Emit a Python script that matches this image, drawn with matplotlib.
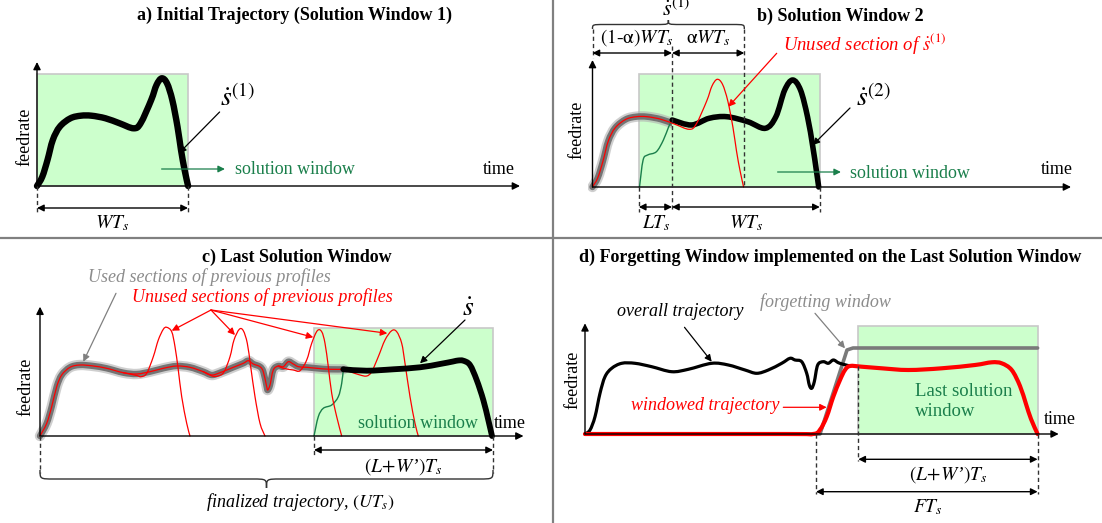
import numpy as np
import matplotlib
matplotlib.use('Agg')
import matplotlib.pyplot as plt
from matplotlib.path import Path
from matplotlib.patches import PathPatch, Rectangle

# ---------------- data: (time, feedrate) ----------------
# a) initial trajectory s(1)
s1_t = [0, 5.3, 10.5, 15.8, 22.8, 33.4, 43.9, 54.5, 68.5, 82.6, 96.6, 103.6,
        114.2, 119.5, 124.7, 130, 135.3, 140.5, 144, 147.6, 151.1]
s1_f = [0, 9.3, 26, 46, 59.3, 67.7, 70.3, 70.3, 67.7, 62.7, 57.7, 62.7,
        86, 101, 107.7, 102.7, 86, 59.3, 36, 16, 0]
a_window = [0, 151.1]

# b) solution window 2
b_used_end = 79.5
s2_green_t = [47, 50.6, 55.1, 63.9, 70.9, 76.2, 79.7]
s2_green_f = [0, 27, 32, 35.3, 47, 60.3, 67]
s2_t = [79.7, 99, 116.6, 134.2, 155.3, 172.8, 183.4, 192.2, 200.2, 208, 215,
        220.3, 223.8, 226.2]
s2_f = [67, 62, 68.7, 70.3, 65.3, 58.7, 70.3, 97, 107, 97, 70.3, 40.3, 17, 0]
b_window = [46.3, 227.3]

# c) last solution window
c_used_t = [0, 6.7, 11.7, 16.7, 21.7, 30, 40, 53.3, 66.7, 83.3, 96.7, 110, 123.3,
            136.7, 150, 163.3, 171.7, 180, 193.3, 203.3, 208.3, 213.3, 220, 223.3,
            226.7, 227.7, 230, 233.3, 238.3, 243.3, 248.3, 253.3, 258.3, 266.7,
            276.7, 290, 303.3]
c_used_f = [0, 12.7, 29.3, 49.3, 61, 68.7, 71, 70, 67.7, 63.3, 62, 64.3, 67.7,
            70, 68.7, 64.3, 61, 63.3, 68.7, 72.7, 75.3, 72, 69.3, 64.3,
            49.3, 46, 51, 66, 70, 69.3, 74.3, 72, 69.3, 68.7,
            67.7, 66.7, 66.7]
c_unused1_t = [83.3, 96.7, 101, 106.7, 113.3, 118.3, 123.3, 126.7, 131.7, 135, 138.3, 141.7, 146.7, 150]
c_unused1_f = [63.3, 60.5, 59.3, 62.7, 79.3, 96, 106.7, 108.7, 104.3, 89.3, 66, 39.3, 12.7, 0]
c_unused2_t = [163.3, 172, 178, 184, 190, 194, 199.3, 203.3, 207.3, 210.7, 215, 220, 225]
c_unused2_f = [64.3, 60, 60, 64, 79.3, 96, 106.7, 105.3, 92.7, 69.3, 39.3, 12.7, 0]
c_unused3_t = [238.3, 243.3, 253.3, 260, 266.7, 271.7, 277.3, 281.7, 285, 288.3, 291.7, 296.7, 301.7]
c_unused3_f = [70, 67.7, 66, 65.3, 76, 92.7, 105.3, 104.3, 92.7, 69.3, 42.7, 19.3, 0]
c_unused4_t = [303.3, 310, 320, 326.7, 331.7, 338.3, 345, 351.7, 356.7, 361.7, 365, 370, 375, 378.3]
c_unused4_f = [66.7, 64.3, 61, 60, 64.3, 79.3, 96, 105.3, 104.3, 92.7, 72.7, 39.3, 12.7, 0]
c_new_t = [274, 278.3, 283.3, 291.7, 298.3, 301.7, 303.3]
c_new_f = [0, 19.3, 27.7, 31, 39.3, 52.7, 66.7]
c_last_t = [303.3, 326.7, 353.3, 380, 400, 413, 418, 423.3, 430, 436.7, 443.3, 448.3, 452]
c_last_f = [66.7, 65.3, 66.7, 68.7, 72, 74.5, 75.5, 75.3, 71, 56, 36, 16, 0]
c_window = [274, 453]

# d) forgetting window
d_overall_t = [0, 5, 10, 15, 20, 26.7, 36.7, 50, 66.7, 86.7, 103.3, 126.7, 143.3,
               160, 171.7, 183.3, 196.7, 205, 210, 216.7, 221.7, 224.3, 226.7,
               229.3, 232.7, 238.3, 243.3, 248.3, 253.3, 258.3, 265]
d_overall_f = [0, 4, 17.3, 40.7, 57.3, 65.7, 70.7, 70.7, 67.3, 62.3, 64.7, 70.7, 69,
               64, 60.7, 64, 70.7, 75.7, 74, 72.3, 60.7, 49, 45.7,
               52.3, 69, 72.3, 70.7, 74, 71.3, 69.7, 68]
d_windowed_t = [0, 200, 228, 235, 241.7, 248.3, 255, 260, 265, 276.7, 296.7, 323.3,
                356.7, 390, 406.7, 416.7, 426.7, 435, 441, 446, 452.6]
d_windowed_f = [0, 0, 0, 4.3, 17.3, 37.3, 54, 64, 68, 67.3, 65.7, 64,
                65.7, 69, 71.7, 70.7, 64, 48, 30, 15, 0]
d_forget_t = [0, 235, 262, 268, 452.6]
d_forget_f = [0, 0, 84, 86, 86]
d_window = [273.3, 452.6]

# ---------------- style ----------------
W, H = 1102, 523
SERIF = 'Liberation Serif'
plt.rcParams['font.family'] = [SERIF, 'DejaVu Serif']
plt.rcParams['mathtext.fontset'] = 'stix'
GREEN_TXT = '#1a7f4b'
GREEN_FILL = '#ccffcc'
RED = '#ff0000'
GRAY = '#808080'

fig = plt.figure(figsize=(W / 100, H / 100), dpi=100)
fig.patch.set_facecolor('white')

Lx = fig.add_axes([0, 0, 1, 1])
Lx.set_xlim(0, W)
Lx.set_ylim(H, 0)
Lx.axis('off')
Lx.set_zorder(10)
Lx.patch.set_alpha(0)


def panel(ox, oy):
    ax = fig.add_axes([0, 0, 1, 1])
    ax.set_xlim(-ox, W - ox)
    ax.set_ylim(oy - H, oy)
    ax.axis('off')
    ax.patch.set_alpha(0)
    return ax


def smooth_path(xs, ys):
    pts = np.column_stack([xs, ys]).astype(float)
    n = len(pts)
    verts = [pts[0]]
    codes = [Path.MOVETO]
    for i in range(n - 1):
        p0 = pts[i - 1] if i > 0 else pts[i]
        p1 = pts[i]
        p2 = pts[i + 1]
        p3 = pts[i + 2] if i + 2 < n else pts[i + 1]
        verts += [p1 + (p2 - p0) / 6.0, p2 - (p3 - p1) / 6.0, p2]
        codes += [Path.CURVE4] * 3
    return Path(verts, codes)


def curve(ax, xs, ys, color, lw, alpha=1.0, z=3, clip=None):
    p = PathPatch(smooth_path(xs, ys), fill=False, edgecolor=color, lw=lw,
                  alpha=alpha, zorder=z, capstyle='round', joinstyle='round')
    ax.add_patch(p)
    if clip is not None:
        r = Rectangle((clip[0], -50), clip[1] - clip[0], 400, transform=ax.transData)
        p.set_clip_path(r)
    return p


def used_curve(ax, xs, ys, clip=None):
    curve(ax, xs, ys, '#b0b0b0', 7.5, 0.6, z=3, clip=clip)
    curve(ax, xs, ys, '#6f6f6f', 4.6, 0.95, z=3, clip=clip)


def axes_arrows(ax, tmax, fmax):
    kw = dict(arrowstyle='-|>', color='black', lw=1.0, mutation_scale=11,
              shrinkA=0, shrinkB=0)
    ax.annotate('', xy=(tmax, 0), xytext=(0, 0), arrowprops=kw, zorder=6)
    ax.annotate('', xy=(0, fmax), xytext=(0, 0), arrowprops=kw, zorder=6)


def window(ax, span, height):
    ax.add_patch(Rectangle((span[0], 0), span[1] - span[0], height,
                           facecolor=GREEN_FILL, edgecolor='#c8c8c8', lw=1.2, zorder=1))


def arrow(x1, y1, x2, y2, color='black', lw=0.9, ms=10):
    Lx.annotate('', xy=(x2, y2), xytext=(x1, y1),
                arrowprops=dict(arrowstyle='-|>', color=color, lw=lw, mutation_scale=ms,
                                shrinkA=0, shrinkB=0))


def dim(x1, x2, y):
    Lx.annotate('', xy=(x2, y), xytext=(x1, y),
                arrowprops=dict(arrowstyle='<|-|>', color='black', lw=1.0, mutation_scale=10,
                                shrinkA=0, shrinkB=0))


def dashed(x, y1, y2, color='#333333'):
    Lx.plot([x, x], [y1, y2], color=color, lw=1.0, dashes=(3, 2.2))


def brace(x1, x2, y0, s, d, r=12):
    xm = (x1 + x2) / 2
    h = y0 + s * d / 2
    tip = y0 + s * d
    verts = [(x1, y0), (x1, h), (x1, h), (x1 + r, h),
             (xm - r, h),
             (xm, h), (xm, h), (xm, tip),
             (xm, h), (xm, h), (xm + r, h),
             (x2 - r, h),
             (x2, h), (x2, h), (x2, y0)]
    codes = [Path.MOVETO, Path.CURVE4, Path.CURVE4, Path.CURVE4,
             Path.LINETO,
             Path.CURVE4, Path.CURVE4, Path.CURVE4,
             Path.CURVE4, Path.CURVE4, Path.CURVE4,
             Path.LINETO,
             Path.CURVE4, Path.CURVE4, Path.CURVE4]
    Lx.add_patch(PathPatch(Path(verts, codes), fill=False, edgecolor='#333333', lw=1.0))


def txt(x, y, s, size=12.5, color='black', ha='center', va='center', **kw):
    Lx.text(x, y, s, fontsize=size, color=color, ha=ha, va=va, **kw)


PRIME_LW = r"$(L\!+\!W$’$)T_s$"

# dividers
Lx.plot([553, 553], [0, H], color=GRAY, lw=1.6)
Lx.plot([0, W], [237.7, 237.7], color=GRAY, lw=1.6)

# ================= panel a =================
axa = panel(37, 186)
window(axa, a_window, 112)
axes_arrows(axa, 483, 124)
curve(axa, s1_t, s1_f, 'black', 4.6, z=4)
txt(294.5, 15, 'a) Initial Trajectory (Solution Window 1)', size=13, weight='bold')
txt(24.6, 137, 'feedrate', rotation=90, size=13)
txt(499, 170, 'time', size=13)
txt(234.7, 170, 'solution window', color=GREEN_TXT, ha='left', size=13)
arrow(161.6, 169, 224.9, 169, color=GREEN_TXT)
txt(220, 98, r'$\dot{s}^{\mathit{(1)}}$', size=20, ha='left')
arrow(219.6, 112, 179.2, 153)
dashed(37, 186, 214)
dashed(188, 186, 214)
dim(37, 188, 208)
txt(112, 223, r'$WT_s$', size=14)

# ================= panel b =================
axb = panel(592.5, 187)
window(axb, b_window, 113)
axes_arrows(axb, 478.5, 127)
used_curve(axb, s1_t, s1_f, clip=(-5, b_used_end))
curve(axb, s1_t, s1_f, RED, 0.9, z=5)
curve(axb, s2_green_t, s2_green_f, '#1a7f4b', 1.0, z=4)
curve(axb, s2_t, s2_f, 'black', 4.0, z=4)
txt(840, 16, 'b) Solution Window 2', size=13, weight='bold')
brace(592.5, 744.3, 29, -1, 9)
txt(676, 21, r'$\dot{s}^{\mathit{(1)}}$', size=16, va='bottom')
dashed(592.5, 29, 58)
dashed(672, 46, 212)
dashed(744.3, 29, 187)
dim(592.5, 672, 53)
dim(672, 744.3, 53)
txt(637, 38, r'$\mathit{(1}$-$\mathrm{\alpha}\mathit{)}WT_s$', size=14, style='italic')
txt(708, 38, r'$\mathrm{\alpha}WT_s$', size=14)
dashed(638.8, 187, 212)
dashed(819.8, 187, 212)
dim(638.8, 672, 207)
dim(672, 819.8, 207)
txt(656.4, 223, r'$LT_s$', size=14)
txt(746, 223, r'$WT_s$', size=14)
txt(783, 44, r'Unused section of $\dot{s}^{\mathit{(1)}}$', size=13.5, color=RED,
    ha='left', style='italic')
arrow(776.7, 53.3, 728.4, 106.7, color=RED)
txt(856, 98, r'$\dot{s}^{\mathit{(2)}}$', size=20, ha='left')
arrow(850, 108, 812.8, 145)
txt(849.7, 173, 'solution window', color=GREEN_TXT, ha='left', size=13)
arrow(777.6, 172, 840.9, 172, color=GREEN_TXT)
txt(1057, 170, 'time', size=13)
txt(577.4, 130, 'feedrate', rotation=90, size=13)

# ================= panel c =================
axc = panel(40, 436)
window(axc, c_window, 108)
axes_arrows(axc, 483.5, 129.3)
used_curve(axc, c_used_t, c_used_f)
curve(axc, c_used_t, c_used_f, RED, 0.9, z=5)
for ut, uf in [(c_unused1_t, c_unused1_f), (c_unused2_t, c_unused2_f),
               (c_unused3_t, c_unused3_f), (c_unused4_t, c_unused4_f)]:
    curve(axc, ut, uf, RED, 0.9, z=5)
curve(axc, c_new_t, c_new_f, '#1a7f4b', 1.0, z=4)
curve(axc, c_last_t, c_last_f, 'black', 4.2, z=6)
txt(297, 257, 'c) Last Solution Window', size=13, weight='bold')
txt(87.8, 277.3, 'Used sections of previous profiles', size=13, color='#8c8c8c',
    ha='left', style='italic')
txt(131.8, 297.3, 'Unused sections of previous profiles', size=13, color=RED,
    ha='left', style='italic')
arrow(116, 293.3, 83.3, 361.7, color=GRAY)
for tx, ty in [(171.7, 330.7), (235, 335), (313.3, 337.3), (387.3, 333.3)]:
    arrow(211, 310, tx, ty, color=RED)
txt(468, 309, r'$\dot{s}$', size=20)
arrow(465, 320, 420, 363.3)
txt(418, 423, 'solution window', color=GREEN_TXT, size=13)
txt(510, 423, 'time', size=13)
txt(26.4, 387, 'feedrate', rotation=90, size=13)
dashed(40, 436, 473)
dashed(314, 436, 457)
dashed(493, 436, 473)
dim(314, 493, 450)
txt(403, 467, PRIME_LW, size=14, style='italic')
brace(40, 493, 470, 1, 18, r=14)
txt(300, 501.7, r'finalized trajectory, $(UT_s)$', size=13, style='italic')

# ================= panel d =================
axd = panel(585, 434)
window(axd, d_window, 108)
axes_arrows(axd, 473.7, 110.7)
axd.plot(d_forget_t, d_forget_f, color='#7a7a7a', lw=2.6, zorder=3,
         solid_joinstyle='round', solid_capstyle='round')
curve(axd, d_overall_t, d_overall_f, 'black', 2.3, z=4)
curve(axd, d_windowed_t, d_windowed_f, RED, 3.0, z=5)
txt(830, 257.3, 'd) Forgetting Window implemented on the Last Solution Window', size=13,
    weight='bold')
txt(572.8, 380, 'feedrate', rotation=90, size=13)
txt(1059.6, 420, 'time', size=13)
txt(915, 391.7, 'Last solution', color=GREEN_TXT, ha='left', size=13.5)
txt(915, 411.7, 'window', color=GREEN_TXT, ha='left', size=13.5)
txt(617, 311.7, 'overall trajectory', size=13, ha='left', style='italic')
arrow(684.5, 327.3, 711.7, 361.7)
txt(760, 301.7, 'forgetting window', size=13, ha='left', style='italic', color='#8c8c8c')
arrow(815, 313.3, 845, 348.3, color=GRAY)
txt(631, 405, 'windowed trajectory', size=13, ha='left', style='italic', color=RED)
arrow(783.3, 407.3, 826.7, 407.3, color=RED)
dashed(816, 434, 494)
dashed(858.3, 366, 461)
dashed(1037.6, 434, 494)
dim(858.3, 1037.6, 459.3)
txt(948, 475, PRIME_LW, size=14, style='italic')
dim(816, 1037.6, 491.7)
txt(927.6, 507, r'$FT_s$', size=14)

fig.savefig('out.png', dpi=100, facecolor='white')
